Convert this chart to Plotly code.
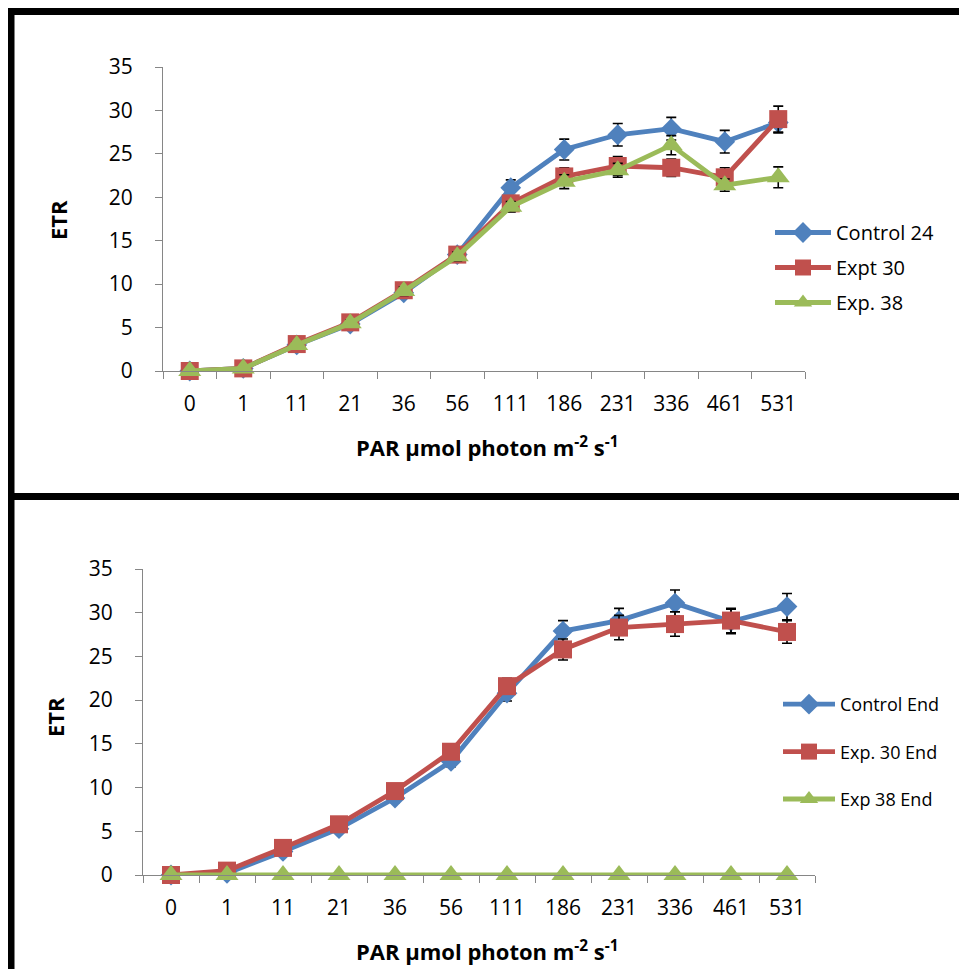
import plotly.graph_objects as go

# The page body has an 8px margin; the figure is sized so it fits the
# 967x977 window exactly (no scrollbars). Page pixel -> paper helpers below.
W, H = 959, 961
OFF = 8

categories = ["0", "1", "11", "21", "36", "56", "111", "186", "231", "336", "461", "531"]

# Top panel
control_24 = [0.0, 0.3, 3.0, 5.4, 9.0, 13.4, 21.1, 25.5, 27.2, 27.9, 26.4, 28.6]
control_24_err = [0.05, 0.1, 0.3, 0.4, 0.5, 0.5, 0.9, 1.2, 1.3, 1.3, 1.3, 1.2]
expt_30 = [0.0, 0.3, 3.1, 5.6, 9.3, 13.4, 19.3, 22.4, 23.6, 23.4, 22.3, 29.0]
expt_30_err = [0.05, 0.1, 0.3, 0.4, 0.5, 0.5, 0.6, 1.0, 1.1, 1.0, 1.1, 1.5]
exp_38 = [0.0, 0.3, 3.0, 5.5, 9.2, 13.2, 18.9, 21.8, 23.1, 26.0, 21.4, 22.3]
exp_38_err = [0.05, 0.1, 0.3, 0.4, 0.5, 0.5, 0.6, 0.8, 0.8, 1.1, 0.7, 1.2]

# Bottom panel
control_end = [0.0, 0.2, 2.7, 5.3, 8.8, 13.0, 20.8, 27.9, 29.1, 31.1, 29.0, 30.7]
control_end_err = [0.05, 0.1, 0.3, 0.4, 0.5, 0.6, 0.9, 1.2, 1.4, 1.5, 1.4, 1.5]
exp30_end = [0.0, 0.5, 3.1, 5.8, 9.6, 14.1, 21.6, 25.8, 28.3, 28.7, 29.1, 27.8]
exp30_end_err = [0.05, 0.1, 0.3, 0.4, 0.5, 0.6, 0.9, 1.2, 1.4, 1.4, 1.4, 1.3]
exp38_end = [0.0, 0.0, 0.0, 0.0, 0.0, 0.0, 0.0, 0.0, 0.0, 0.0, 0.0, 0.0]

y_ticks = [0, 5, 10, 15, 20, 25, 30, 35]

BLUE = "#4F81BD"
RED = "#C0504D"
GREEN = "#9BBB59"
AXIS = "#868686"
FONT = "Open Sans"


def px(x):
    return (x - OFF) / W


def py(y):
    return 1 - (y - OFF) / H


def series(name, y, err, color, symbol, size, xa, ya, legend, group):
    return go.Scatter(
        x=categories, y=y, name=name, mode="lines+markers",
        line=dict(color=color, width=4.8),
        marker=dict(color=color, symbol=symbol, size=size),
        error_y=dict(type="data", array=err, visible=err is not None,
                     color="black", thickness=1.6, width=5),
        xaxis=xa, yaxis=ya, legend=legend, legendgroup=group,
        cliponaxis=False,
    )


fig = go.Figure()
fig.add_trace(series("Control 24", control_24, control_24_err, BLUE, "diamond", 16, "x", "y", "legend", "a"))
fig.add_trace(series("Expt 30", expt_30, expt_30_err, RED, "square", 18, "x", "y", "legend", "b"))
fig.add_trace(series("Exp. 38", exp_38, exp_38_err, GREEN, "triangle-up", 20, "x", "y", "legend", "c"))
fig.add_trace(series("Control End", control_end, control_end_err, BLUE, "diamond", 16, "x2", "y2", "legend2", "d"))
fig.add_trace(series("Exp. 30 End", exp30_end, exp30_end_err, RED, "square", 18, "x2", "y2", "legend2", "e"))
fig.add_trace(series("Exp 38 End", exp38_end, None, GREEN, "triangle-up", 20, "x2", "y2", "legend2", "f"))

xcommon = dict(type="category", range=[-0.5, 11.5], tickson="boundaries",
               showline=True, linecolor=AXIS, linewidth=1.3, ticks="outside",
               tickcolor=AXIS, ticklen=7, tickwidth=1.3, showgrid=False,
               zeroline=False, automargin=False,
               tickfont=dict(family=FONT, size=21, color="black"),
               ticklabelstandoff=14)
ycommon = dict(range=[0, 35], tickvals=y_ticks, showline=True, linecolor=AXIS,
               linewidth=1.3, ticks="outside", tickcolor=AXIS, ticklen=7,
               tickwidth=1.3, showgrid=False, zeroline=False, automargin=False,
               tickfont=dict(family=FONT, size=21, color="black"),
               ticklabelstandoff=18)

fig.update_layout(
    width=W, height=H,
    autosize=False,
    margin=dict(l=0, r=0, t=0, b=0, pad=0),
    paper_bgcolor="white", plot_bgcolor="white",
    font=dict(family=FONT, color="black"),
    xaxis=dict(domain=[px(163), px(805)], anchor="y", **xcommon),
    yaxis=dict(domain=[py(371), py(67)], anchor="x", **ycommon),
    xaxis2=dict(domain=[px(143), px(815)], anchor="y2", **xcommon),
    yaxis2=dict(domain=[py(875), py(569)], anchor="x2", **ycommon),
    legend=dict(x=px(770), y=py(213), xanchor="left", yanchor="top",
                bgcolor="rgba(0,0,0,0)", font=dict(family=FONT, size=20),
                tracegroupgap=6, itemwidth=56),
    legend2=dict(x=px(778), y=py(686), xanchor="left", yanchor="top",
                 bgcolor="rgba(0,0,0,0)", font=dict(family=FONT, size=18),
                 tracegroupgap=21, itemwidth=52),
    showlegend=True,
)

title_txt = "<b>PAR µmol photon m<sup>-2</sup> s<sup>-1</sup></b>"
for (tx, ty) in [(487, 447), (487, 950)]:
    fig.add_annotation(x=px(tx), y=py(ty), xref="paper", yref="paper",
                       text=title_txt, showarrow=False,
                       font=dict(family=FONT, size=22, color="black"),
                       xanchor="center", yanchor="middle")
for (tx, ty) in [(58, 220), (55, 717)]:
    fig.add_annotation(x=px(tx), y=py(ty), xref="paper", yref="paper",
                       text="<b>ETR</b>", showarrow=False, textangle=-90,
                       font=dict(family=FONT, size=22, color="black"),
                       xanchor="center", yanchor="middle")

# Panel borders
fig.add_shape(type="path", xref="paper", yref="paper",
              path=f"M {px(980)},{py(11.5)} L {px(11)},{py(11.5)} L {px(11)},{py(990)}",
              line=dict(color="black", width=7))
fig.add_shape(type="line", xref="paper", yref="paper",
              x0=px(11), x1=px(980), y0=py(496.5), y1=py(496.5),
              line=dict(color="black", width=7))

fig.write_html("out.html")
